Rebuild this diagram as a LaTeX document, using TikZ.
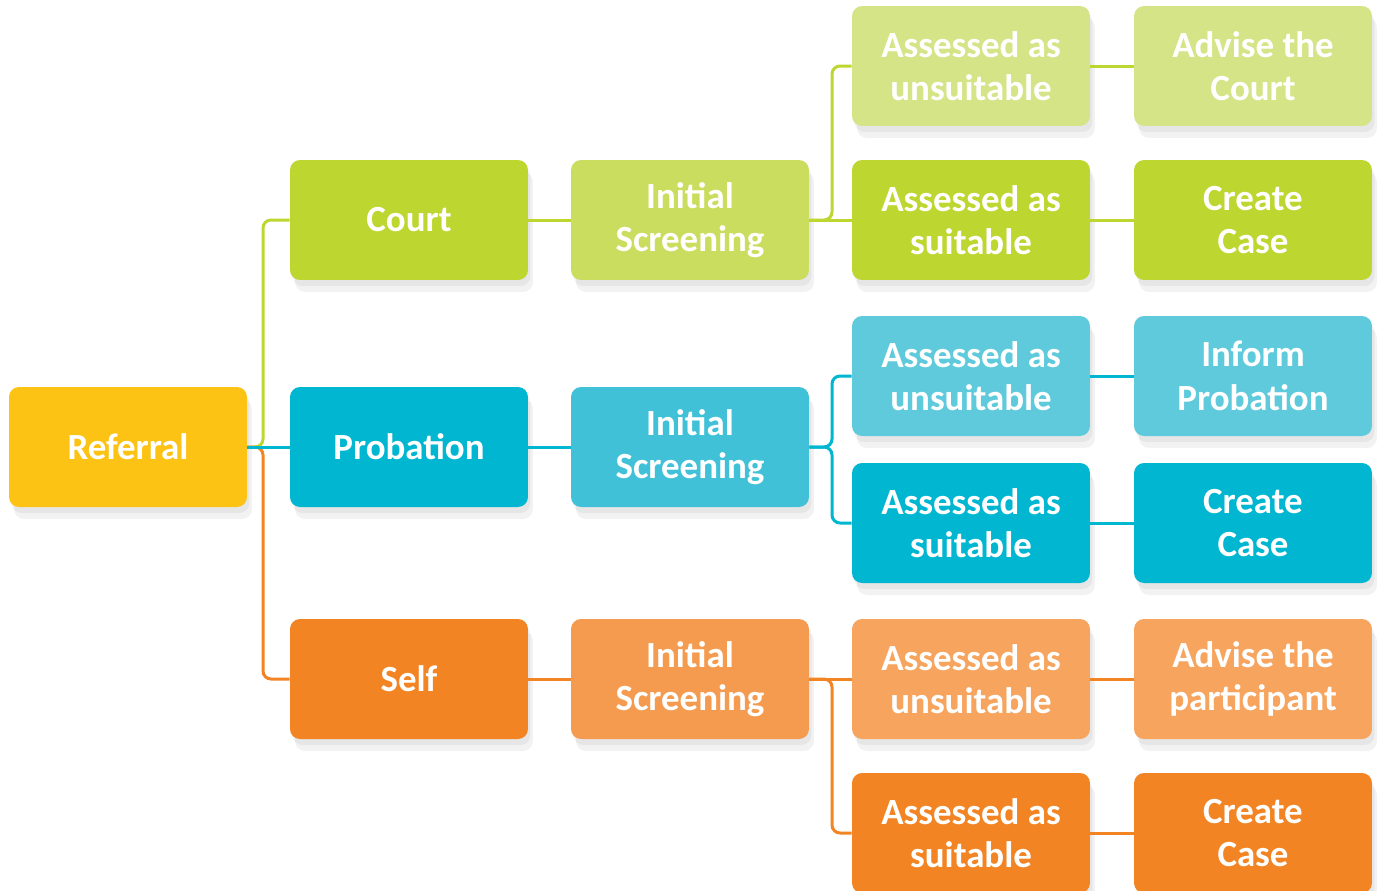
\documentclass[tikz,border=0pt]{standalone}
\usepackage{fontspec}
\setmainfont{Carlito}
\usetikzlibrary{shadows}

\definecolor{refYellow}{HTML}{FCC314}
\definecolor{grnDark}{HTML}{BDD630}
\definecolor{grnMid}{HTML}{CBDD5E}
\definecolor{grnLight}{HTML}{D6E488}
\definecolor{cyDark}{HTML}{00B6D0}
\definecolor{cyMid}{HTML}{41C1D8}
\definecolor{cyLight}{HTML}{5ECADC}
\definecolor{orDark}{HTML}{F28423}
\definecolor{orMid}{HTML}{F59B4F}
\definecolor{orLight}{HTML}{F6A45E}

\begin{document}
\begin{tikzpicture}[x=0.02cm, y=-0.02cm,
  box/.style={rectangle, rounded corners=0.2cm, minimum width=4.76cm, minimum height=2.4cm,
    inner sep=0pt, align=center, text=white,
    font=\fontsize{21}{24.8}\selectfont\bfseries,
    drop shadow={shadow xshift=0.1cm, shadow yshift=-0.24cm, opacity=0.05, fill=black},
    drop shadow={shadow xshift=0.05cm, shadow yshift=-0.12cm, opacity=0.05, fill=black}},
  link/.style={line width=0.06cm, rounded corners=0.16cm}]
  \useasboundingbox (0,0) rectangle (1378,890);
  \clip (0,0) rectangle (1378,890);

  % root and sources
  \node[box, fill=refYellow] (ref) at (128,447) {Referral};
  \node[box, fill=grnDark] (court) at (409,220) {Court};
  \node[box, fill=cyDark] (prob) at (409,447) {Probation};
  \node[box, fill=orDark] (self) at (409,679) {Self};

  % screening
  \node[box, fill=grnMid] (iscourt) at (690,220) {Initial\\Screening};
  \node[box, fill=cyMid] (isprob) at (690,447) {Initial\\Screening};
  \node[box, fill=orMid] (isself) at (690,679) {Initial\\Screening};

  % outcomes
  \node[box, fill=grnLight] (cunsuit) at (971,66) {Assessed as\\unsuitable};
  \node[box, fill=grnDark] (csuit) at (971,220) {Assessed as\\suitable};
  \node[box, fill=cyLight] (punsuit) at (971,376) {Assessed as\\unsuitable};
  \node[box, fill=cyDark] (psuit) at (971,523) {Assessed as\\suitable};
  \node[box, fill=orLight] (sunsuit) at (971,679) {Assessed as\\unsuitable};
  \node[box, fill=orDark] (ssuit) at (971,833) {Assessed as\\suitable};

  % actions
  \node[box, fill=grnLight] (cadvise) at (1253,66) {Advise the\\Court};
  \node[box, fill=grnDark] (ccase) at (1253,220) {Create\\Case};
  \node[box, fill=cyLight] (pinform) at (1253,376) {Inform\\Probation};
  \node[box, fill=cyDark] (pcase) at (1253,523) {Create\\Case};
  \node[box, fill=orLight] (sadvise) at (1253,679) {Advise the\\participant};
  \node[box, fill=orDark] (scase) at (1253,833) {Create\\Case};

  \coordinate (fork) at (263,447);
  \coordinate (cfork) at (832,220);
  \coordinate (pfork) at (832,447);
  \coordinate (sfork) at (832,679);

  \path[draw=grnDark, link] (ref.east) -- (fork) |- (court.west);
  \path[draw=orDark, link] (ref.east) -- (fork) |- (self.west);
  \path[draw=cyDark, link] (ref.east) -- (prob.west);

  \path[draw=grnDark, link] (court.east) -- (iscourt.west);
  \path[draw=cyDark, link] (prob.east) -- (isprob.west);
  \path[draw=orDark, link] (self.east) -- (isself.west);

  \path[draw=grnDark, link] (iscourt.east) -- (csuit.west);
  \path[draw=grnDark, link] (iscourt.east) -- (cfork) |- (cunsuit.west);
  \path[draw=cyDark, link] (isprob.east) -- (pfork) |- (punsuit.west);
  \path[draw=cyDark, link] (isprob.east) -- (pfork) |- (psuit.west);
  \path[draw=orDark, link] (isself.east) -- (sunsuit.west);
  \path[draw=orDark, link] (isself.east) -- (sfork) |- (ssuit.west);

  \path[draw=grnDark, link] (cunsuit.east) -- (cadvise.west);
  \path[draw=grnDark, link] (csuit.east) -- (ccase.west);
  \path[draw=cyDark, link] (punsuit.east) -- (pinform.west);
  \path[draw=cyDark, link] (psuit.east) -- (pcase.west);
  \path[draw=orDark, link] (sunsuit.east) -- (sadvise.west);
  \path[draw=orDark, link] (ssuit.east) -- (scase.west);
\end{tikzpicture}
\end{document}
